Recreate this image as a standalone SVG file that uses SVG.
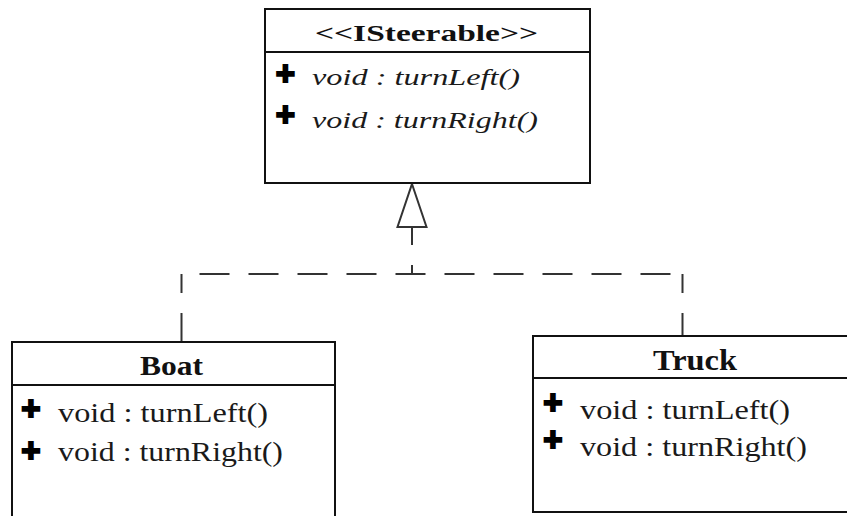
<svg xmlns="http://www.w3.org/2000/svg" width="847" height="516" viewBox="0 0 847 516">
  <style>
    .box { fill: #ffffff; stroke: #111111; stroke-width: 2; }
    .sep { stroke: #111111; stroke-width: 2; }
    .hdr { font-family: "Liberation Serif", "Times New Roman", Times, serif; font-weight: bold; fill: #111111; }
    .op { font-family: "Liberation Serif", "Times New Roman", Times, serif; fill: #1a1a1a; }
    .it { font-style: italic; }
    .plus { font-family: "Liberation Sans", Arial, sans-serif; font-weight: bold; font-size: 33px; text-anchor: middle; fill: #000000; stroke: #000000; stroke-width: 2; }
    .conn { fill: none; stroke: #333333; stroke-width: 2; }
    .head { fill: #ffffff; stroke: #333333; stroke-width: 2; stroke-linejoin: miter; }
  </style>
  <rect x="0" y="0" width="847" height="516" fill="#ffffff"/>

  <g id="connectors">
    <polygon class="head" points="412,184 426.5,227 397.5,227"/>
    <path class="conn" d="M412 227 V245 M412 265 V274"/>
    <line class="conn" x1="181.5" y1="274" x2="682.5" y2="274" stroke-dasharray="30 19" stroke-dashoffset="31"/>
    <path class="conn" d="M181.5 274 V293 M181.5 313 V342"/>
    <path class="conn" d="M682.5 274 V293 M682.5 313 V336"/>
  </g>

  <g id="ISteerable">
    <rect class="box" x="265" y="9" width="325" height="174"/>
    <line class="sep" x1="265" y1="52" x2="590" y2="52"/>
    <text class="hdr" x="315" y="41" font-size="23" textLength="223" lengthAdjust="spacingAndGlyphs">&lt;&lt;ISteerable&gt;&gt;</text>
    <text class="plus" x="285.5" y="85">+</text>
    <text class="op it" x="312" y="85" font-size="23" textLength="208" lengthAdjust="spacingAndGlyphs">void : turnLeft()</text>
    <text class="plus" x="285.5" y="126">+</text>
    <text class="op it" x="312" y="128" font-size="23" textLength="226" lengthAdjust="spacingAndGlyphs">void : turnRight()</text>
  </g>

  <g id="Boat">
    <rect class="box" x="12" y="342" width="323" height="200"/>
    <line class="sep" x1="12" y1="385" x2="335" y2="385"/>
    <text class="hdr" x="140" y="375" font-size="28" textLength="63" lengthAdjust="spacingAndGlyphs">Boat</text>
    <text class="plus" x="31" y="420">+</text>
    <text class="op" x="58" y="422" font-size="27" textLength="210" lengthAdjust="spacingAndGlyphs">void : turnLeft()</text>
    <text class="plus" x="31" y="462">+</text>
    <text class="op" x="58" y="461" font-size="27" textLength="225" lengthAdjust="spacingAndGlyphs">void : turnRight()</text>
  </g>

  <g id="Truck">
    <rect class="box" x="533" y="336" width="330" height="176"/>
    <line class="sep" x1="533" y1="378" x2="863" y2="378"/>
    <text class="hdr" x="653" y="370" font-size="30" textLength="84" lengthAdjust="spacingAndGlyphs">Truck</text>
    <text class="plus" x="553" y="414">+</text>
    <text class="op" x="580" y="419" font-size="27" textLength="210" lengthAdjust="spacingAndGlyphs">void : turnLeft()</text>
    <text class="plus" x="553" y="451">+</text>
    <text class="op" x="580" y="456" font-size="27" textLength="227" lengthAdjust="spacingAndGlyphs">void : turnRight()</text>
  </g>
</svg>
